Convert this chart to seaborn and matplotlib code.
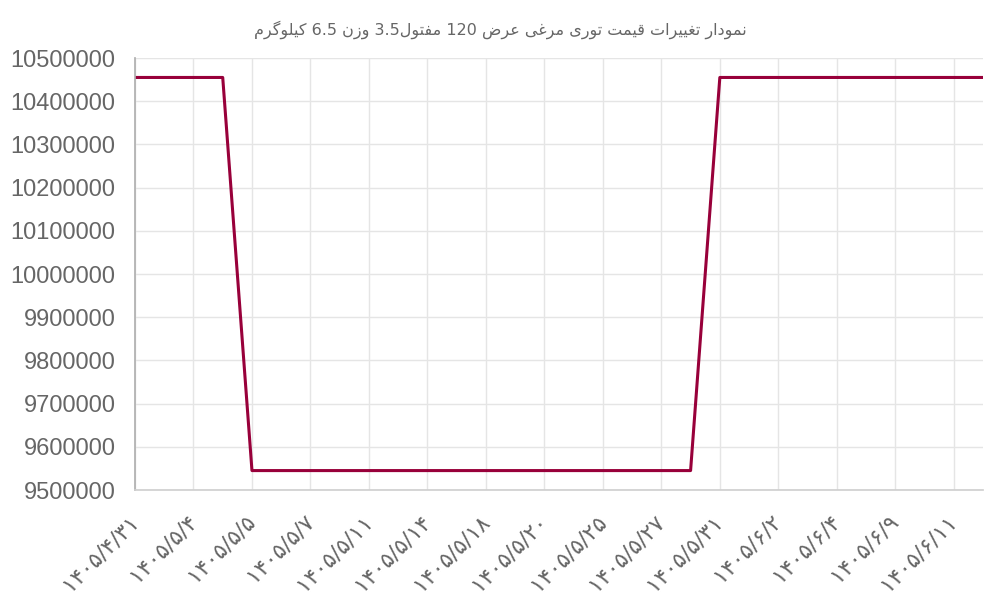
import re
import unicodedata
import numpy as np
import matplotlib
matplotlib.use("Agg")
import matplotlib.pyplot as plt
import seaborn as sns

# data (30 points, every 2nd label is shown)
title_text = "نمودار تغییرات قیمت توری مرغی عرض 120 مفتول3.5 وزن 6.5 کیلوگرم"
shown_labels = ["۱۴۰۵/۴/۳۱", "۱۴۰۵/۵/۴", "۱۴۰۵/۵/۵", "۱۴۰۵/۵/۷", "۱۴۰۵/۵/۱۱",
                "۱۴۰۵/۵/۱۴", "۱۴۰۵/۵/۱۸", "۱۴۰۵/۵/۲۰", "۱۴۰۵/۵/۲۵", "۱۴۰۵/۵/۲۷",
                "۱۴۰۵/۵/۳۱", "۱۴۰۵/۶/۲", "۱۴۰۵/۶/۴", "۱۴۰۵/۶/۹", "۱۴۰۵/۶/۱۱"]
prices = [10455000, 10455000, 10455000, 10455000,
          9545000, 9545000, 9545000, 9545000, 9545000, 9545000, 9545000, 9545000,
          9545000, 9545000, 9545000, 9545000, 9545000, 9545000, 9545000, 9545000,
          10455000, 10455000, 10455000, 10455000, 10455000,
          10455000, 10455000, 10455000, 10455000, 10455000]
y_ticks = [9500000, 9600000, 9700000, 9800000, 9900000, 10000000,
           10100000, 10200000, 10300000, 10400000, 10500000]


## simple persian shaping + rtl order (matplotlib has no text shaping)
def _form(ch, kind):
    try:
        return unicodedata.lookup(unicodedata.name(ch) + " " + kind + " FORM")
    except (KeyError, ValueError):
        return None

def _is_ar(ch):
    return "\u0600" <= ch <= "\u06ff" and not ("\u06f0" <= ch <= "\u06f9")

def shape(text):
    out = []
    for i, ch in enumerate(text):
        if not _is_ar(ch):
            out.append(ch)
            continue
        prev_joins = i > 0 and _is_ar(text[i - 1]) and _form(text[i - 1], "INITIAL") is not None
        next_joins = i < len(text) - 1 and _is_ar(text[i + 1]) and _form(ch, "INITIAL") is not None
        if prev_joins and next_joins:
            f = _form(ch, "MEDIAL")
        elif prev_joins:
            f = _form(ch, "FINAL")
        elif next_joins:
            f = _form(ch, "INITIAL")
        else:
            f = _form(ch, "ISOLATED")
        out.append(f or ch)
    return "".join(out)

def visual(text):
    tokens = re.findall(r"[0-9.]+|.", shape(text))
    return "".join(reversed(tokens))


sns.set_theme(style="whitegrid")
plt.rcParams['font.family'] = ['Liberation Sans', 'DejaVu Sans']

fig = plt.figure(figsize=(10, 6), dpi=100)
ax = fig.add_axes([0.135, 0.1833, 0.848, 0.72])

x = np.arange(len(prices))
sns.lineplot(x=x, y=prices, ax=ax, color="#98003a", linewidth=2.2)

ax.set_xlim(0, len(prices) - 1)
ax.set_ylim(9500000, 10500000)
ax.set_yticks(y_ticks)
ax.set_yticklabels([str(v) for v in y_ticks])
ax.set_xticks(x[::2])
ax.set_xticklabels(shown_labels, rotation=45, ha="right", va="center",
                   rotation_mode="anchor", family=['DejaVu Sans'])

ax.grid(True, color="#e5e5e5", linewidth=1)
ax.tick_params(axis="y", length=13, width=1, color="#e5e5e5", labelsize=17,
               labelcolor="#666666", pad=1)
ax.tick_params(axis="x", length=14, width=1, color="#e5e5e5", labelsize=16,
               labelcolor="#666666", pad=6)
for s in ["top", "right"]:
    ax.spines[s].set_visible(False)
ax.spines["left"].set_color("#b0b0b0")
ax.spines["bottom"].set_color("#d0d0d0")

fig.text(0.5, 0.95, visual(title_text), ha="center", va="center",
         fontsize=11.5, color="#666666", family=['DejaVu Sans'])

plt.savefig("out.png", dpi=100)
